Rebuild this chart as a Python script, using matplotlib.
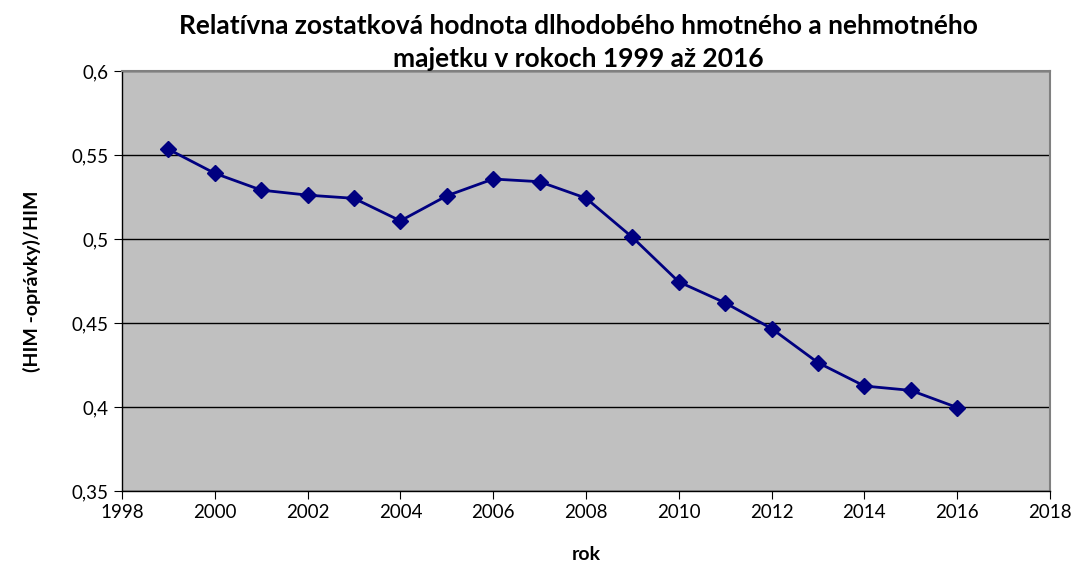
import matplotlib
matplotlib.use('Agg')
from matplotlib import pyplot as plt
from matplotlib.ticker import FuncFormatter, MultipleLocator

plt.rcParams['font.family'] = ['Lato', 'DejaVu Sans']

years = [1999, 2000, 2001, 2002, 2003, 2004, 2005, 2006, 2007,
         2008, 2009, 2010, 2011, 2012, 2013, 2014, 2015, 2016]
ratio = [0.5534, 0.5391, 0.5291, 0.5261, 0.5242, 0.5108, 0.5257, 0.5357, 0.5341,
         0.5243, 0.5010, 0.4745, 0.4620, 0.4467, 0.4264, 0.4125, 0.4099, 0.3997]

title = "Relatívna zostatková hodnota dlhodobého hmotného a nehmotného\nmajetku v rokoch 1999 až 2016"

fig = plt.figure(figsize=(10.75, 5.62), dpi=100)
ax = fig.add_axes([0.1135, 0.1263, 0.8632, 0.7474])
ax.set_facecolor('#C0C0C0')

ax.plot(years, ratio, '-', color='#000080', lw=2, marker='D', markersize=8,
        markeredgecolor='#000080', zorder=3)

ax.set_xlim(1998, 2018)
ax.set_ylim(0.35, 0.6)
ax.xaxis.set_major_locator(MultipleLocator(2))
ax.yaxis.set_major_locator(MultipleLocator(0.05))
ax.yaxis.set_major_formatter(FuncFormatter(lambda v, p: f"{v:g}".replace('.', ',')))
ax.grid(axis='y', color='black', lw=1, zorder=1)
ax.set_axisbelow(True)

for s in ['top', 'right']:
    ax.spines[s].set_color('#808080')
    ax.spines[s].set_linewidth(1.5)
for s in ['left', 'bottom']:
    ax.spines[s].set_color('black')
    ax.spines[s].set_linewidth(1)
ax.tick_params(direction='out', length=6, labelsize=13.5, colors='black')

ax.set_xlabel('rok', fontsize=14, fontweight='bold', labelpad=18)
ax.set_ylabel('(HIM -oprávky)/HIM', fontsize=14, fontweight='bold', labelpad=22)
fig.text(0.5377, 0.975, title, ha='center', va='top', fontsize=19,
         fontweight='bold', linespacing=1.45)

fig.savefig('out.png', dpi=100)
